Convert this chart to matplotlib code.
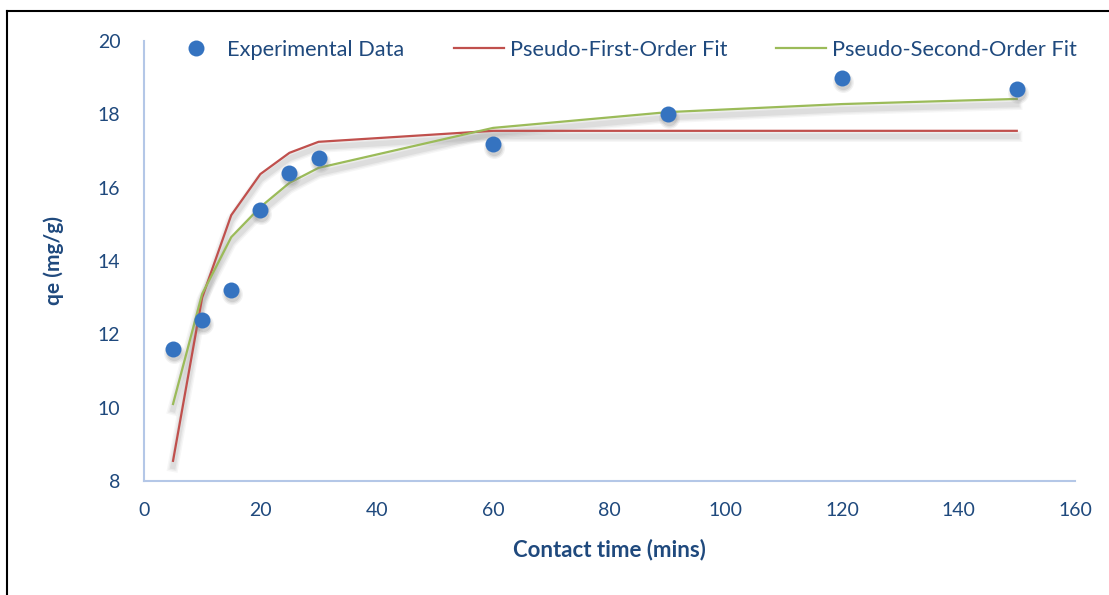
import numpy as np
import matplotlib
matplotlib.use('Agg')
import matplotlib.pyplot as plt
import matplotlib.patheffects as pe
import matplotlib.transforms as mtransforms
from matplotlib.lines import Line2D

# contact time (mins)
time_exp = [5, 10, 15, 20, 25, 30, 60, 90, 120, 150]
qe_exp = [11.6, 12.4, 13.2, 15.4, 16.4, 16.8, 17.2, 18.0, 19.0, 18.7]

time_fit = [5, 10, 15, 20, 25, 30, 60, 90, 120, 150]
qe_pfo = [8.55, 13.0, 15.25, 16.37, 16.95, 17.25, 17.55, 17.55, 17.55, 17.55]
qe_pso = [10.1, 13.1, 14.65, 15.47, 16.13, 16.54, 17.63, 18.06, 18.28, 18.42]

txt_color = '#1f497d'
axis_color = '#b4c7e7'
dot_color = '#3573c0'
pfo_color = '#c0504d'
pso_color = '#9bbb59'

plt.rcParams['font.family'] = ['Lato', 'DejaVu Sans']

fig = plt.figure(figsize=(11.09, 5.95), dpi=100)
ax = fig.add_axes([0.1298, 0.1916, 0.8395, 0.7395])

# soft grey drop shadows under the lines and dots
for blur_lw, blur_a in [(8, 0.07), (6, 0.09), (4, 0.12)]:
    shadow = [pe.SimpleLineShadow(offset=(0, -4), shadow_color='#808080', alpha=blur_a, linewidth=blur_lw)]
    ax.plot(time_fit, qe_pfo, color='none', path_effects=shadow, zorder=2)
    ax.plot(time_fit, qe_pso, color='none', path_effects=shadow, zorder=2)
ax.plot(time_fit, qe_pfo, color=pfo_color, lw=1.6, zorder=3)
ax.plot(time_fit, qe_pso, color=pso_color, lw=1.6, zorder=3)

shift = mtransforms.offset_copy(ax.transData, fig=fig, x=1, y=-4, units='dots')
for ms, a in [(15, 0.10), (13, 0.14), (11, 0.18)]:
    ax.plot(time_exp, qe_exp, 'o', color='#808080', ms=ms, mew=0, alpha=a,
            transform=shift, zorder=3)
ax.plot(time_exp, qe_exp, 'o', color=dot_color, ms=11.5, mew=0, zorder=4)

ax.set_xlim(0, 160)
ax.set_ylim(8, 20)
ax.set_xticks(np.arange(0, 161, 20))
ax.set_yticks(np.arange(8, 21, 2))
for s in ['top', 'right']:
    ax.spines[s].set_visible(False)
for s in ['left', 'bottom']:
    ax.spines[s].set_color(axis_color)
    ax.spines[s].set_linewidth(1.5)
ax.tick_params(length=0, labelsize=14, labelcolor=txt_color)
ax.tick_params(axis='x', pad=15)
ax.tick_params(axis='y', pad=17)

ax.set_xlabel('Contact time (mins)', fontsize=16, fontweight='bold', color=txt_color, labelpad=14)
ax.set_ylabel('qe (mg/g)', fontsize=15, fontweight='bold', color=txt_color, labelpad=24)

handles = [Line2D([], [], ls='none', marker='o', ms=11.5, color=dot_color, mew=0),
           Line2D([], [], color=pfo_color, lw=1.6),
           Line2D([], [], color=pso_color, lw=1.6)]
labels = ['Experimental Data', 'Pseudo-First-Order Fit', 'Pseudo-Second-Order Fit']
ax.legend(handles, labels, ncol=3, loc='upper left',
          bbox_to_anchor=(0.0295, 1.003), borderaxespad=0, borderpad=0,
          frameon=False, fontsize=15.7, labelcolor=txt_color,
          handlelength=2.3, columnspacing=2.25, handletextpad=0.27)

# frame lines of the original picture (top and left only)
fig.add_artist(Line2D([7 / 1109, 1], [1 - 11 / 595, 1 - 11 / 595], color='black', lw=1.5,
                      transform=fig.transFigure))
fig.add_artist(Line2D([7 / 1109, 7 / 1109], [0, 1 - 11 / 595], color='black', lw=1.5,
                      transform=fig.transFigure))

fig.savefig('out.png', dpi=100)
